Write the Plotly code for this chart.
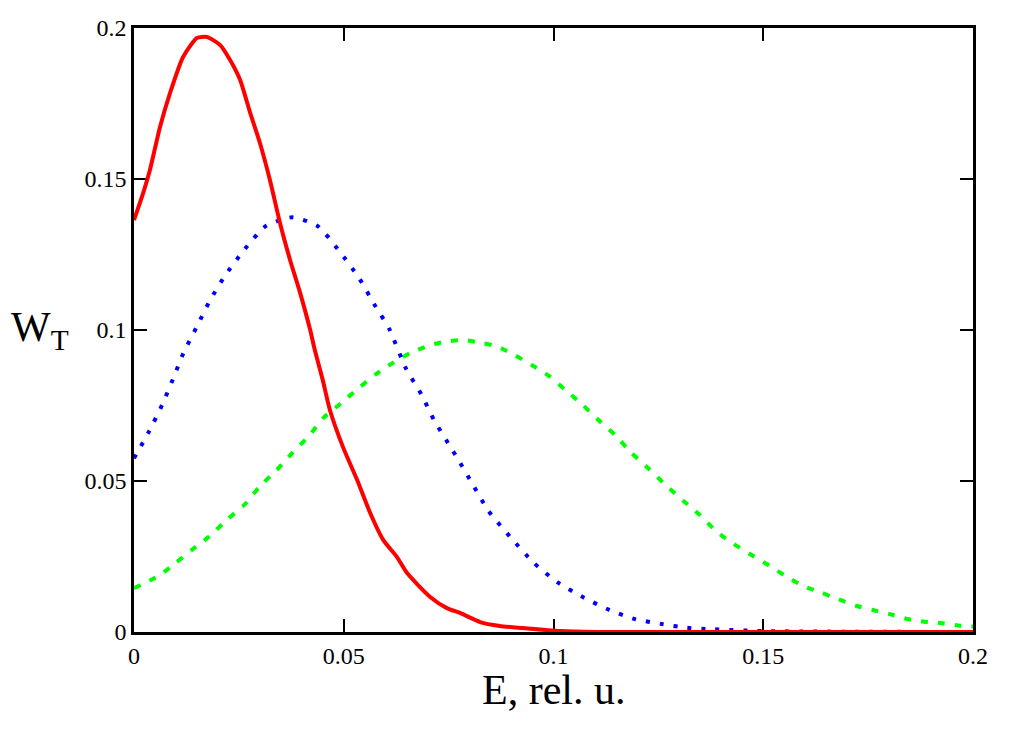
import plotly.graph_objects as go

# Red curve (solid)
red_x = [0, 0.0022, 0.0038, 0.0062, 0.0086, 0.0117, 0.015, 0.0174, 0.0205, 0.0229,
         0.0253, 0.0277, 0.030, 0.0324, 0.0348, 0.0372, 0.0396, 0.042, 0.0431, 0.045,
         0.0467, 0.0498, 0.0532, 0.0563, 0.0594, 0.0627, 0.0651, 0.0706, 0.0746, 0.0777,
         0.0825, 0.0872, 0.0927, 0.1016, 0.11, 0.2]
red_y = [0.1364, 0.1454, 0.153, 0.1672, 0.1785, 0.1904, 0.1967, 0.197, 0.1944, 0.1894,
         0.1828, 0.1719, 0.162, 0.1497, 0.1354, 0.1232, 0.1123, 0.100, 0.0934, 0.0834,
         0.0735, 0.0613, 0.0503, 0.0394, 0.0305, 0.0248, 0.0195, 0.0116, 0.0079, 0.0063,
         0.0033, 0.002, 0.0013, 0.0003, 0.0, 0.0]

# Blue curve (dotted)
blue_x = [0, 0.00365, 0.0067, 0.0093, 0.0118, 0.0149, 0.018, 0.0217, 0.0263, 0.0314,
          0.0377, 0.0438, 0.049, 0.0536, 0.0572, 0.0609, 0.0648, 0.0685, 0.0715, 0.0753,
          0.0772, 0.0808, 0.0845, 0.0896, 0.0953, 0.1009, 0.1072, 0.1133, 0.1196, 0.1256,
          0.1318, 0.1381, 0.15, 0.17, 0.2]
blue_y = [0.0575, 0.0666, 0.0752, 0.0838, 0.0924, 0.1009, 0.1095, 0.118, 0.1266, 0.1344,
          0.1373, 0.1344, 0.126, 0.1173, 0.1087, 0.1002, 0.0873, 0.0787, 0.0702, 0.0616,
          0.0573, 0.0487, 0.0401, 0.0316, 0.0229, 0.0165, 0.0114, 0.0073, 0.0042, 0.0027,
          0.0014, 0.0009, 0.0003, 0.0001, 0.0]

# Green curve (dashed)
green_x = [0, 0.006, 0.0098, 0.0138, 0.0179, 0.0221, 0.0263, 0.0299, 0.034, 0.0378,
           0.0417, 0.0451, 0.0493, 0.0535, 0.0576, 0.0618, 0.066, 0.0702, 0.0741, 0.0783,
           0.0825, 0.0866, 0.0907, 0.0948, 0.0989, 0.1026, 0.1067, 0.1107, 0.1147, 0.1185,
           0.1226, 0.1267, 0.1309, 0.1349, 0.1389, 0.143, 0.1472, 0.1514, 0.1556, 0.1596,
           0.1637, 0.1679, 0.1721, 0.1761, 0.1802, 0.1844, 0.1884, 0.1927, 0.1969, 0.2]
green_y = [0.0145, 0.0187, 0.0227, 0.0272, 0.0316, 0.0371, 0.0421, 0.0481, 0.0536, 0.0594,
           0.0649, 0.0708, 0.0757, 0.0807, 0.0853, 0.0892, 0.0925, 0.0948, 0.0961, 0.0967,
           0.0958, 0.0945, 0.0917, 0.0884, 0.0848, 0.0804, 0.0755, 0.0702, 0.0652, 0.0594,
           0.0542, 0.0487, 0.0435, 0.0387, 0.0332, 0.0291, 0.0255, 0.022, 0.0183, 0.0152,
           0.0131, 0.0109, 0.0087, 0.0073, 0.0059, 0.0043, 0.0034, 0.0029, 0.0021, 0.0018]

tick_vals = [0, 0.05, 0.1, 0.15, 0.2]
tick_text = ["0", "0.05", "0.1", "0.15", "0.2"]
x_title = "E, rel. u."
y_title = "W<sub>T</sub>"

FONT = "Liberation Serif, Times New Roman, serif"

fig = go.Figure()
fig.add_trace(go.Scatter(x=green_x, y=green_y, mode="lines",
                         line=dict(color="#00ff00", width=4, dash="7px,10px", shape="spline", smoothing=0.6),
                         showlegend=False))
fig.add_trace(go.Scatter(x=blue_x, y=blue_y, mode="lines",
                         line=dict(color="#0000ff", width=4, dash="4px,10px", shape="spline", smoothing=0.6),
                         showlegend=False))
fig.add_trace(go.Scatter(x=red_x, y=red_y, mode="lines",
                         line=dict(color="#ff0000", width=4, shape="spline", smoothing=0.6),
                         showlegend=False))

axis_common = dict(
    range=[0, 0.2], tickvals=tick_vals, ticktext=tick_text,
    showgrid=False, zeroline=False, showline=True, linecolor="black", linewidth=2.5,
    mirror="ticks", ticks="inside", ticklen=13, tickwidth=2, tickcolor="black",
    tickfont=dict(family=FONT, size=24, color="black"), layer="below traces",
)
fig.update_xaxes(**axis_common)
fig.update_yaxes(**axis_common)

fig.add_annotation(text=x_title, xref="paper", yref="paper", x=0.5, y=-0.096,
                   xanchor="center", yanchor="middle", showarrow=False,
                   font=dict(family=FONT, size=42, color="black"))
fig.add_annotation(text=y_title, xref="paper", yref="paper", x=-0.112, y=0.5,
                   xanchor="center", yanchor="middle", showarrow=False,
                   font=dict(family=FONT, size=42, color="black"))

fig.update_layout(
    width=1024, height=736,
    margin=dict(l=134, r=51, t=28, b=104),
    paper_bgcolor="white", plot_bgcolor="white",
)

fig.write_html("out.html")
